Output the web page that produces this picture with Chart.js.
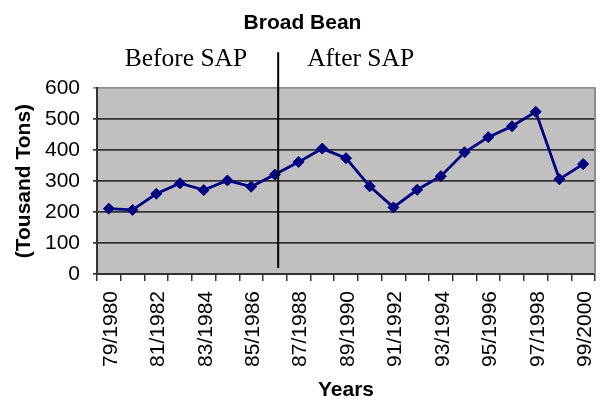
<!DOCTYPE html>
<html>
<head>
<meta charset="utf-8">
<script src="https://cdn.jsdelivr.net/npm/chart.js@4/dist/chart.umd.min.js"></script>
<style>
  html, body { margin: 0; padding: 0; background: #ffffff; }
  #wrap { width: 605px; height: 404px; }
</style>
</head>
<body>
<div id="wrap"><canvas id="c" width="605" height="404"></canvas></div>
<script>
// ---- data ----
const categories = ['79/1980','80/1981','81/1982','82/1983','83/1984','84/1985','85/1986',
  '86/1987','87/1988','88/1989','89/1990','90/1991','91/1992','92/1993','93/1994',
  '94/1995','95/1996','96/1997','97/1998','98/1999','99/2000'];
const production = [211, 207, 259, 293, 271, 302, 282, 321, 362, 405, 374,
  283, 215, 272, 316, 393, 442, 477, 524, 306, 355];
const yTicks = [0, 100, 200, 300, 400, 500, 600];
const chartTitle = 'Broad Bean';
const yTitle = '(Tousand Tons)';
const xTitle = 'Years';
const beforeLabel = 'Before SAP';
const afterLabel = 'After SAP';
const sapIndex = 7; // last season before the SAP divider

const SANS = "'Liberation Sans', Arial, sans-serif";
const SERIF = "'Liberation Serif', 'Times New Roman', serif";

const backgroundPlugin = {
  id: 'plotBg',
  beforeDraw(chart) {
    const {ctx, chartArea: a} = chart;
    ctx.save();
    ctx.fillStyle = '#c0c0c0';
    ctx.fillRect(a.left, a.top, a.right - a.left, a.bottom - a.top);
    ctx.restore();
  },
  afterDatasetsDraw(chart) {
    const {ctx, chartArea: a, scales} = chart;
    ctx.save();
    // right border of plot area
    ctx.strokeStyle = '#8c8c8c';
    ctx.lineWidth = 2;
    ctx.beginPath();
    ctx.moveTo(a.right, a.top - 1);
    ctx.lineTo(a.right, a.bottom);
    ctx.stroke();
    // SAP divider
    const x0 = scales.x.getPixelForValue(sapIndex);
    const x1 = scales.x.getPixelForValue(sapIndex + 1);
    const lx = x0 + 0.14 * (x1 - x0);
    ctx.strokeStyle = '#000000';
    ctx.lineWidth = 2;
    ctx.beginPath();
    ctx.moveTo(lx, a.top - 36);
    ctx.lineTo(lx, a.bottom - 6);
    ctx.stroke();
    // labels
    ctx.fillStyle = '#000000';
    ctx.font = '25.5px ' + SERIF;
    ctx.textBaseline = 'alphabetic';
    ctx.textAlign = 'right';
    ctx.fillText(beforeLabel, lx - 31, a.top - 22);
    ctx.textAlign = 'left';
    ctx.fillText(afterLabel, lx + 29, a.top - 22);
    ctx.restore();
  }
};

Chart.defaults.font.family = SANS;
Chart.defaults.color = '#000000';

new Chart(document.getElementById('c'), {
  type: 'line',
  data: {
    labels: categories,
    datasets: [{
      data: production,
      borderColor: '#000080',
      backgroundColor: '#000080',
      borderWidth: 2.8,
      pointStyle: 'rectRot',
      pointRadius: 5.5,
      pointBorderWidth: 1,
      pointBackgroundColor: '#000080',
      pointBorderColor: '#000080',
      tension: 0,
      fill: false
    }]
  },
  options: {
    responsive: false,
    animation: false,
    devicePixelRatio: 1,
    layout: { padding: { left: 0, right: 0, top: 0, bottom: 0 } },
    plugins: {
      legend: { display: false },
      tooltip: { enabled: false },
      title: {
        display: true,
        text: chartTitle,
        font: { size: 21, weight: 'bold', family: SANS },
        color: '#000000',
        padding: { top: 11, bottom: 52 }
      }
    },
    scales: {
      x: {
        type: 'category',
        offset: true,
        grid: {
          offset: true,
          drawOnChartArea: false,
          drawTicks: true,
          tickLength: 7,
          color: '#333333',
          lineWidth: 1.5
        },
        border: { display: true, color: '#333333', width: 2 },
        ticks: {
          autoSkip: false,
          minRotation: 90,
          maxRotation: 90,
          padding: 10,
          labelOffset: 2,
          font: { size: 21, family: SANS },
          color: '#000000',
          callback: function(value, index) {
            return index % 2 === 0 ? categories[index] : '';
          }
        },
        title: {
          display: true,
          text: xTitle,
          font: { size: 21, weight: 'bold', family: SANS },
          color: '#000000',
          padding: { top: 0, bottom: 1 }
        },
        afterFit(scale) {
          scale.height = 130;
          scale.paddingLeft = 0;
          scale.paddingRight = 10;
        }
      },
      y: {
        min: 0,
        max: 600,
        afterBuildTicks(scale) { scale.ticks = yTicks.map(v => ({ value: v })); },
        grid: {
          color: (ctx) => (ctx.tick && ctx.tick.value === 600) ? '#8c8c8c' : '#333333',
          lineWidth: 1.7,
          drawTicks: true,
          tickLength: 4
        },
        border: { display: true, color: '#333333', width: 2 },
        ticks: {
          padding: 13,
          font: { size: 21, family: SANS },
          color: '#000000'
        },
        title: {
          display: true,
          text: yTitle,
          font: { size: 21, weight: 'bold', family: SANS },
          color: '#000000',
          padding: { top: 12, bottom: 0 }
        },
        afterFit(scale) {
          scale.width = 97;
          scale.paddingTop = 0;
          scale.paddingBottom = 0;
        }
      }
    }
  },
  plugins: [backgroundPlugin]
});
</script>
</body>
</html>
